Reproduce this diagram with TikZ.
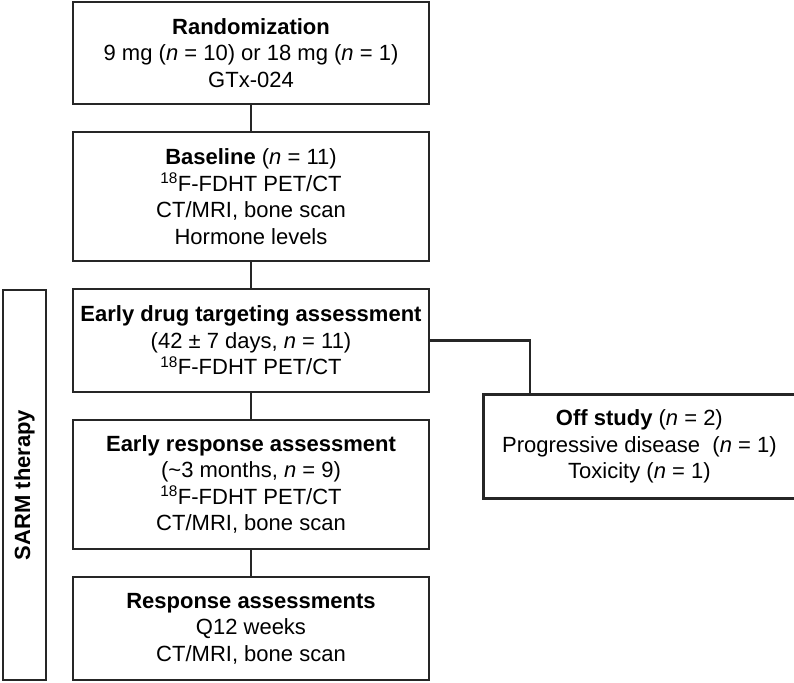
\documentclass[tikz,border=0pt]{standalone}
\usepackage{fontspec}
\setmainfont{Liberation Sans}
\usetikzlibrary{positioning,calc}
\begin{document}
\begin{tikzpicture}
[x=1pt,y=1pt,node distance=25.6pt,font=\fontsize{22}{26.5}\selectfont,
stage/.style={draw=black!85,line width=2.4pt,minimum width=356pt,minimum height=103pt,align=center,inner sep=0pt},
tall/.style={minimum height=129pt},
link/.style={black!85,line width=2.4pt}]
%%%%%%%%%%

\def \offshift {52pt}
\def \dropx {48pt}

\useasboundingbox (0,0) rectangle (794,-682);

\node[stage,minimum height=102pt] (rand) at (251,-53) {\textbf{Randomization}\\9 mg (\textit{n} = 10) or 18 mg (\textit{n} = 1)\\GTx-024};
\node[stage,tall,below=of rand] (base) {\textbf{Baseline} (\textit{n} = 11)\\\textsuperscript{18}F-FDHT PET/CT\\CT/MRI, bone scan\\Hormone levels};
\node[stage,below=of base] (early) {\textbf{Early drug targeting assessment}\\(42 ± 7 days, \textit{n} = 11)\\\textsuperscript{18}F-FDHT PET/CT};
\node[stage,tall,below=of early] (eresp) {\textbf{Early response assessment}\\(\textasciitilde3 months, \textit{n} = 9)\\\textsuperscript{18}F-FDHT PET/CT\\CT/MRI, bone scan};
\node[stage,below=of eresp] (resp) {\textbf{Response assessments}\\Q12 weeks\\CT/MRI, bone scan};

\node[stage,minimum width=312pt,minimum height=104pt,below right=0pt and \offshift of early] (off) {\textbf{Off study} (\textit{n} = 2)\\Progressive disease\ \ (\textit{n} = 1)\\Toxicity (\textit{n} = 1)};

\node[stage,rotate=90,minimum width=390pt,minimum height=43pt,font=\fontsize{22}{26.5}\selectfont\bfseries] (sarm) at (24.5,-485) {SARM therapy};

\draw[link] (rand) -- (base);
\draw[link] (base) -- (early);
\draw[link] (early) -- (eresp);
\draw[link] (eresp) -- (resp);
\draw[link] (early.east) -| ([xshift=\dropx]off.north west);
\end{tikzpicture}
\end{document}
